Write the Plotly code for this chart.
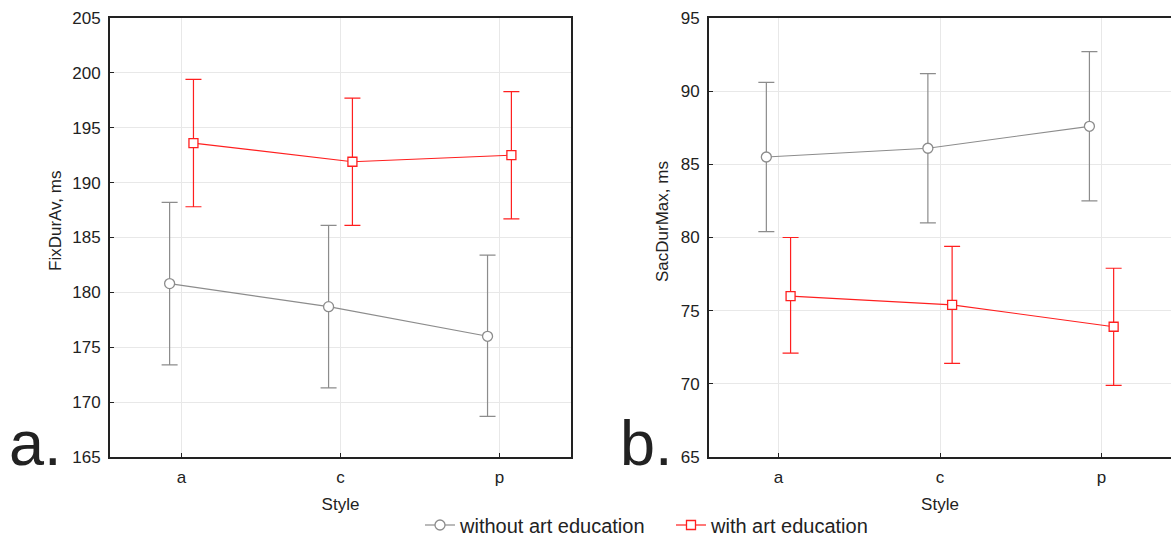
import plotly.graph_objects as go

styles = ["a", "c", "p"]

# Panel a: FixDurAv, ms
fix_without_mean = [180.8, 178.7, 176.0]
fix_without_low = [173.4, 171.3, 168.7]
fix_without_high = [188.2, 186.1, 183.4]
fix_with_mean = [193.6, 191.9, 192.5]
fix_with_low = [187.8, 186.1, 186.7]
fix_with_high = [199.4, 197.7, 198.3]

# Panel b: SacDurMax, ms
sac_without_mean = [85.5, 86.1, 87.6]
sac_without_low = [80.4, 81.0, 82.5]
sac_without_high = [90.6, 91.2, 92.7]
sac_with_mean = [76.0, 75.4, 73.9]
sac_with_low = [72.1, 71.4, 69.9]
sac_with_high = [80.0, 79.4, 77.9]

GRAY = "#8c8c8c"
RED = "#ff1f1f"
FONT = "Liberation Sans, Arial, sans-serif"
OFF = 0.075

fig = go.Figure()

def add(mean, low, high, color, symbol, name, xa, ya, offset, show):
    xs = [i + offset for i in range(len(styles))]
    fig.add_trace(go.Scatter(
        x=xs, y=mean, xaxis=xa, yaxis=ya, name=name, showlegend=show,
        mode="lines+markers",
        line=dict(color=color, width=1.2),
        marker=dict(symbol=symbol, size=10 if symbol == "circle" else 9,
                    color="white", line=dict(color=color, width=1.3)),
        error_y=dict(type="data", symmetric=False,
                     array=[h - m for h, m in zip(high, mean)],
                     arrayminus=[m - l for m, l in zip(mean, low)],
                     color=color, thickness=1.2, width=8),
    ))

add(fix_without_mean, fix_without_low, fix_without_high, GRAY, "circle",
    "without art education", "x", "y", -OFF, True)
add(fix_with_mean, fix_with_low, fix_with_high, RED, "square",
    "with art education", "x", "y", OFF, True)
add(sac_without_mean, sac_without_low, sac_without_high, GRAY, "circle",
    "without art education", "x2", "y2", -OFF, False)
add(sac_with_mean, sac_with_low, sac_with_high, RED, "square",
    "with art education", "x2", "y2", OFF, False)

axis_common = dict(
    showline=True, linecolor="#222", linewidth=2, mirror=True,
    showgrid=True, gridcolor="#e8e8e8", gridwidth=1,
    ticks="inside", ticklen=4, tickcolor="#222",
    tickfont=dict(family=FONT, size=17, color="#222"),
    zeroline=False,
)

W, H = 1171, 538
T, B = 18, 81
PH = H - T - B

def py(ypix):
    return (H - B - ypix) / PH

fig.update_layout(
    width=W, height=H,
    paper_bgcolor="white", plot_bgcolor="white",
    margin=dict(l=0, r=0, t=T, b=B, autoexpand=False),
    font=dict(family=FONT, color="#222"),
    xaxis=dict(axis_common, domain=[110 / W, 571 / W], range=[-0.45, 2.45],
               tickmode="array", tickvals=[0, 1, 2], ticktext=styles,
               ticklabelstandoff=4,
               title=dict(text="Style", font=dict(size=17), standoff=12)),
    yaxis=dict(axis_common, range=[165, 205], tickvals=list(range(165, 206, 5)),
               ticklabelstandoff=4),
    xaxis2=dict(axis_common, domain=[709 / W, 1.0], range=[-0.43, 2.43],
                tickmode="array", tickvals=[0, 1, 2], ticktext=styles,
                ticklabelstandoff=4,
                title=dict(text="Style", font=dict(size=17), standoff=12),
                anchor="y2"),
    yaxis2=dict(axis_common, range=[65, 95], tickvals=list(range(65, 96, 5)),
                anchor="x2", ticklabelstandoff=4),
    legend=dict(orientation="h", x=420 / W, xanchor="left", y=py(525),
                yanchor="middle", font=dict(family=FONT, size=20, color="#222"),
                entrywidth=206, entrywidthmode="pixels",
                bgcolor="rgba(0,0,0,0)"),
    annotations=[
        dict(text="FixDurAv, ms", x=55 / W, y=py(221), xref="paper", yref="paper",
             xanchor="center", yanchor="middle", textangle=-90, showarrow=False,
             font=dict(family=FONT, size=17, color="#222")),
        dict(text="SacDurMax, ms", x=662 / W, y=py(222), xref="paper", yref="paper",
             xanchor="center", yanchor="middle", textangle=-90, showarrow=False,
             font=dict(family=FONT, size=17, color="#222")),
        dict(text="a.", x=35 / W, y=-0.052, xref="paper", yref="paper",
             xanchor="center", yanchor="bottom", showarrow=False,
             font=dict(family=FONT, size=63, color="#222")),
        dict(text="b.", x=646 / W, y=-0.052, xref="paper", yref="paper",
             xanchor="center", yanchor="bottom", showarrow=False,
             font=dict(family=FONT, size=63, color="#222")),
    ],
)

fig.write_html("out.html", config={"displayModeBar": False},
               post_script="document.body.style.margin='0';document.body.style.overflow='hidden';")
